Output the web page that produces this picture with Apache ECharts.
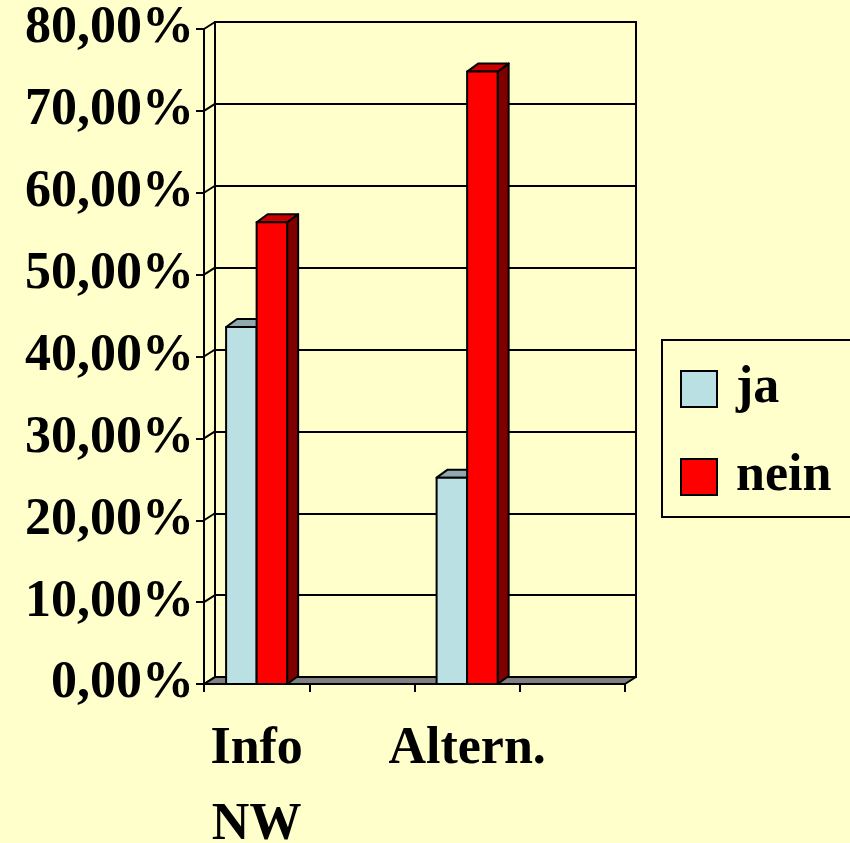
<!DOCTYPE html>
<html>
<head>
<meta charset="utf-8">
<script src="https://cdn.jsdelivr.net/npm/echarts@6/dist/echarts.min.js"></script>
<style>
  html, body { margin: 0; padding: 0; background: #ffffcc; }
  #chart { width: 850px; height: 843px; }
</style>
</head>
<body>
<div id="chart"></div>
<script>
/*------------------------------ data ------------------------------*/
var categories = ['Info\nNW', '', 'Altern.', ''];
var seriesNames = ['ja', 'nein'];
var jaValues = [43.6, null, 25.2, null];
var neinValues = [56.4, null, 74.8, null];
var yTicks = [0, 10, 20, 30, 40, 50, 60, 70, 80];

var FONT = '"Liberation Serif", "Times New Roman", serif';
var DX = 11, DY = -7;      // depth of the wall / floor
var BDX = 11, BDY = -8;    // depth of the bars

var colors = {
    ja: {front: '#bbe0e3', top: '#8eaaae', side: '#6f8a8d'},
    nein: {front: '#ff0000', top: '#cc0000', side: '#800000'}
};

var chart = echarts.init(document.getElementById('chart'));

/**
 * 3D-Balken zeichnen
 * @param idx 0 = ja (links), 1 = nein (rechts)
 * @param c   Farben
 */
function barRenderer(idx, c) {
    return function (params, api) {
        var val = api.value(1);
        if (val == null || isNaN(val)) return;
        var cat = api.value(0);
        var band = api.size([1, 0])[0];
        var bw = band * 0.29;
        var base = api.coord([cat, 0]);
        var top = api.coord([cat, val]);
        var x0 = idx === 0 ? base[0] - bw : base[0];
        var x1 = x0 + bw;
        var y0 = base[1], y1 = top[1];
        var line = {stroke: '#000', lineWidth: 2, lineJoin: 'round'};
        return {
            type: 'group',
            children: [
                {
                    type: 'polygon',
                    shape: {points: [[x1, y0], [x1 + BDX, y0 + BDY], [x1 + BDX, y1 + BDY], [x1, y1]]},
                    style: Object.assign({fill: c.side}, line)
                },
                {
                    type: 'polygon',
                    shape: {points: [[x0, y1], [x0 + BDX, y1 + BDY], [x1 + BDX, y1 + BDY], [x1, y1]]},
                    style: Object.assign({fill: c.top}, line)
                },
                {
                    type: 'rect',
                    shape: {x: x0, y: y1, width: bw, height: y0 - y1},
                    style: Object.assign({fill: c.front}, line)
                }
            ]
        };
    };
}

function pairs(values) {
    var out = [];
    for (var i = 0; i < values.length; i++) {
        out.push([i, values[i]]);
    }
    return out;
}

var option = {
    backgroundColor: '#ffffcc',
    animation: false,
    legend: {
        data: seriesNames,
        orient: 'vertical',
        left: 662,
        top: 340,
        padding: [23, 20, 14, 18],
        itemWidth: 36,
        itemHeight: 36,
        itemGap: 36,
        icon: 'rect',
        borderColor: '#000',
        borderWidth: 2,
        backgroundColor: '#ffffcc',
        itemStyle: {borderColor: '#000', borderWidth: 2},
        textStyle: {
            fontFamily: FONT,
            fontWeight: 'bold',
            fontSize: 52,
            color: '#000',
            padding: [0, 0, 0, 14]
        }
    },
    grid: [
        {left: 204, right: 225, top: 29, bottom: 159, outerBoundsMode: 'none', containLabel: false},
        {
            left: 204 + DX, right: 225 - DX, top: 29 + DY, bottom: 159 - DY,
            outerBoundsMode: 'none', containLabel: false,
            show: true, borderColor: '#000', borderWidth: 2, backgroundColor: 'transparent'
        }
    ],
    xAxis: [
        {
            type: 'category',
            gridIndex: 0,
            data: categories,
            boundaryGap: true,
            axisLine: {show: true, lineStyle: {color: '#000', width: 2}},
            axisTick: {show: true, length: 8, lineStyle: {color: '#000', width: 2}},
            axisLabel: {
                interval: 0,
                margin: 28,
                fontFamily: FONT,
                fontWeight: 'bold',
                fontSize: 52,
                lineHeight: 76,
                color: '#000'
            },
            z: 10
        },
        {
            type: 'category',
            gridIndex: 1,
            data: categories,
            show: false
        }
    ],
    yAxis: [
        {
            type: 'value',
            gridIndex: 0,
            min: 0,
            max: 80,
            interval: 10,
            axisLine: {show: true, lineStyle: {color: '#000', width: 2}},
            axisTick: {show: true, length: 8, lineStyle: {color: '#000', width: 2}},
            splitLine: {show: false},
            axisLabel: {
                margin: 10,
                padding: [4, 0, 0, 0],
                fontFamily: FONT,
                fontWeight: 'bold',
                fontSize: 52,
                color: '#000',
                formatter: function (v) {
                    return v.toFixed(2).replace('.', ',') + '%';
                }
            },
            z: 10
        },
        {
            type: 'value',
            gridIndex: 1,
            min: 0,
            max: 80,
            interval: 10,
            axisLine: {show: false},
            axisTick: {show: false},
            axisLabel: {show: false},
            splitLine: {show: true, lineStyle: {color: '#000', width: 2}}
        }
    ],
    series: [
        {
            // Boden
            type: 'custom',
            xAxisIndex: 0,
            yAxisIndex: 0,
            silent: true,
            z: 2,
            data: [[0, 0]],
            renderItem: function (params, api) {
                var band = api.size([1, 0])[0];
                var l = api.coord([0, 0]);
                var r = api.coord([categories.length - 1, 0]);
                var xl = l[0] - band / 2, xr = r[0] + band / 2, y = l[1];
                return {
                    type: 'polygon',
                    shape: {points: [[xl, y], [xl + DX, y + DY], [xr + DX, y + DY], [xr, y]]},
                    style: {fill: '#808080', stroke: '#000', lineWidth: 2, lineJoin: 'round'}
                };
            }
        },
        {
            // Verbindungslinien Achse -> Wand
            type: 'custom',
            xAxisIndex: 0,
            yAxisIndex: 0,
            silent: true,
            z: 3,
            data: yTicks.map(function (v) { return [0, v]; }),
            renderItem: function (params, api) {
                var band = api.size([1, 0])[0];
                var p = api.coord([0, api.value(1)]);
                var x = p[0] - band / 2;
                return {
                    type: 'line',
                    shape: {x1: x, y1: p[1], x2: x + DX, y2: p[1] + DY},
                    style: {stroke: '#000', lineWidth: 2}
                };
            }
        },
        {
            name: 'ja',
            type: 'custom',
            xAxisIndex: 0,
            yAxisIndex: 0,
            z: 4,
            itemStyle: {color: colors.ja.front},
            data: pairs(jaValues),
            renderItem: barRenderer(0, colors.ja)
        },
        {
            name: 'nein',
            type: 'custom',
            xAxisIndex: 0,
            yAxisIndex: 0,
            z: 5,
            itemStyle: {color: colors.nein.front},
            data: pairs(neinValues),
            renderItem: barRenderer(1, colors.nein)
        }
    ]
};
chart.setOption(option);
</script>
</body>
</html>
